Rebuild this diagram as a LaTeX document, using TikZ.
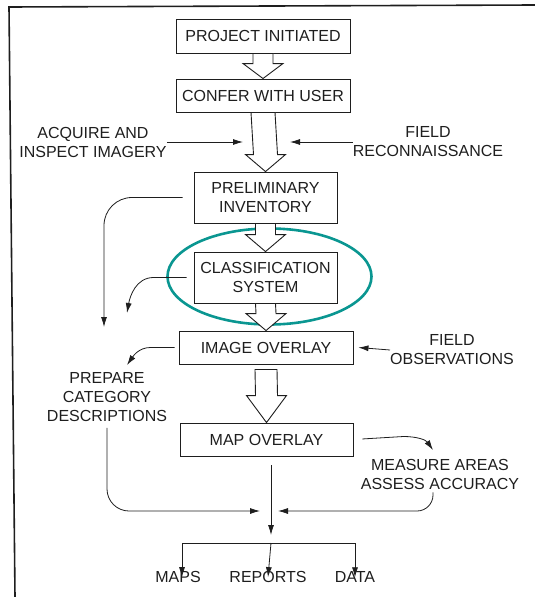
\documentclass[tikz,border=0pt]{standalone}
\usepackage{fontspec}
\setmainfont{Liberation Sans}
\usetikzlibrary{arrows.meta,calc}
\definecolor{inkgray}{RGB}{30,30,30}
\definecolor{ringteal}{RGB}{10,150,145}

% hollow block arrow between two boxes: from, to, shaft half width, head length
\newcommand{\blockarrow}[5][0]{%
  \draw[hollow] ($(#2.south)+(-#3,#1)$) -- ($(#4.north)+(-#3,-#5)$) -- ($(#4.north)+(-20,-#5)$)
    -- (#4.north) -- ($(#4.north)+(20,-#5)$) -- ($(#4.north)+(#3,-#5)$) -- ($(#2.south)+(#3,#1)$) -- cycle;}

\begin{document}
\begin{tikzpicture}[x=1pt, y=-1pt, >={Latex[length=10pt,width=6pt]},
  font=\fontsize{16}{19}\selectfont, text=inkgray,
  box/.style={draw=inkgray, line width=0.9pt, align=center, inner sep=0pt},
  lbl/.style={align=center, inner sep=0pt},
  hollow/.style={draw=inkgray, line width=0.9pt, fill=white, line join=miter},
  conn/.style={draw=inkgray, line width=0.8pt, ->}]
\useasboundingbox (0,0) rectangle (535,597);
\draw[inkgray, line width=1.6pt] (535,5) -- (9,7) -- (15,597);

\node[box, minimum width=174pt, minimum height=34pt] (pi) at (263,36) {PROJECT INITIATED};
\node[box, minimum width=174pt, minimum height=33pt] (cwu) at (263,95.5) {CONFER WITH USER};
\node[box, minimum width=143pt, minimum height=51pt] (pre) at (265.5,197.5) {PRELIMINARY\\INVENTORY};
\node[box, minimum width=143pt, minimum height=51pt] (cls) at (265.5,277.5) {CLASSIFICATION\\SYSTEM};
\node[box, minimum width=174pt, minimum height=33pt] (io) at (266,347.5) {IMAGE OVERLAY};
\node[box, minimum width=173pt, minimum height=33pt] (mo) at (266.5,439.5) {MAP OVERLAY};

\node[lbl] (acq) at (93,142) {ACQUIRE AND\\INSPECT IMAGERY};
\node[lbl] (frec) at (428,142) {FIELD\\RECONNAISSANCE};
\node[lbl] (fobs) at (452,350) {FIELD\\OBSERVATIONS};
\node[lbl] (prep) at (107,397) {PREPARE\\CATEGORY\\DESCRIPTIONS};
\node[lbl] (meas) at (440,474) {MEASURE AREAS\\ASSESS ACCURACY};
\node[lbl] (maps) at (178,577) {MAPS};
\node[lbl] (rep) at (268,577) {REPORTS};
\node[lbl] (data) at (355,577) {DATA};

\draw[ringteal, line width=2.6pt] (269.5,276.5) ellipse [x radius=102, y radius=48];

\blockarrow{pi}{10}{cwu}{15}
\blockarrow{cwu}{12}{pre}{17}
\blockarrow{pre}{10}{cls}{17}
\blockarrow{cls}{10}{io}{17}
\blockarrow[5]{io}{11}{mo}{27}

\coordinate (acqin) at (243,142);
\coordinate (recin) at (290,142);
\coordinate (prein) at (104,327);
\coordinate (clsout) at (127,313);
\coordinate (ioout) at (127,365);
\coordinate (measin) at (433,450);
\coordinate (hub) at (271,511);
\coordinate (hubdown) at (271,535);
\coordinate (split) at (271,543);

\draw[conn] (acq.east) -- (acqin);
\draw[conn] (frec.west) -- (recin);
\draw[conn] (fobs.west) -- ([xshift=5pt]io.east);
\draw[conn, rounded corners=28pt, shorten <=11pt] (pre.west) -| (prein);
\draw[conn, shorten <=7pt] (cls.west) -- ++(-40,0) to[out=180,in=80] (clsout);
\draw[conn, shorten <=4pt] (io.west) -- ++(-28,0) to[out=180,in=55] (ioout);
\draw[conn, shorten <=9pt] (mo.east) -- ++(50,-3) to[out=0,in=125] (measin);
\draw[conn, rounded corners=22pt, shorten <=6pt] (prep.south) |- ([xshift=-11pt]hub);
\draw[conn, rounded corners=16pt, shorten <=3pt] (meas.south -| measin) |- ([xshift=7pt]hub);
\draw[conn, shorten <=9pt] (mo.south -| hub) -- (hubdown);
\draw[inkgray, line width=0.8pt] (split -| maps.north) ++(4,0) -- (split -| data.north);
\draw[conn] (split) -- ([yshift=-6pt]rep.north);
\draw[conn] ([xshift=4pt]split -| maps.north) -- ([xshift=4pt,yshift=-6pt]maps.north);
\draw[conn] (split -| data.north) -- ([yshift=-6pt]data.north);
\end{tikzpicture}
\end{document}
